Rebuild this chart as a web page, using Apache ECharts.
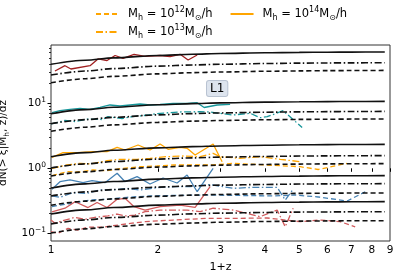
<!DOCTYPE html>
<html><head><meta charset="utf-8">
<script src="https://cdn.jsdelivr.net/npm/echarts@6/dist/echarts.min.js"></script>
<style>html,body{margin:0;padding:0;background:#fff}#c{width:399px;height:274px}</style>
</head><body><div id="c"></div>
<script>
// ---- tick values ----
const xTicks = [1, 2, 3, 4, 5, 6, 7, 8, 9];
const yMajor = [0.1, 1, 10];
const yMinor = [0.2, 0.3, 0.4, 0.5, 0.6, 0.7, 0.8, 0.9, 2, 3, 4, 5, 6, 7, 8, 9, 20, 30, 40, 50, 60, 70];
const xRange = [1, 9];
const yRange = [0.0761, 78.9];

// ---- model curves (black), sampled at modelX ----
const modelX = [1, 1.25, 1.5, 2, 2.5, 3, 4, 5, 6, 7, 8.7];
const t1Solid   = [39.8, 46.0, 50.0, 54.5, 56.9, 58.3, 59.9, 60.7, 61.1, 61.4, 61.6];
const t1DashDot = [27.2, 31.4, 34.2, 37.3, 38.9, 39.9, 40.9, 41.5, 41.8, 41.9, 42.1];
const t1Dashed  = [20.7, 23.9, 26.0, 28.4, 29.6, 30.3, 31.1, 31.5, 31.8, 31.9, 32.1];
const t2Solid   = [6.92, 8.00, 8.69, 9.48, 9.90, 10.14, 10.41, 10.55, 10.62, 10.67, 10.72];
const t2DashDot = [4.85, 5.61, 6.09, 6.64, 6.94, 7.11, 7.29, 7.39, 7.44, 7.48, 7.51];
const t2Dashed  = [3.71, 4.29, 4.66, 5.08, 5.31, 5.44, 5.58, 5.65, 5.69, 5.72, 5.75];
const t3Solid   = [1.507, 1.742, 1.893, 2.065, 2.155, 2.209, 2.267, 2.297, 2.313, 2.324, 2.334];
const t3DashDot = [1.012, 1.170, 1.271, 1.386, 1.447, 1.484, 1.522, 1.542, 1.553, 1.561, 1.568];
const t3Dashed  = [0.762, 0.881, 0.957, 1.044, 1.090, 1.117, 1.146, 1.161, 1.170, 1.175, 1.180];
const t4Solid   = [0.498, 0.576, 0.625, 0.682, 0.712, 0.730, 0.749, 0.759, 0.764, 0.768, 0.771];
const t4DashDot = [0.375, 0.434, 0.471, 0.514, 0.536, 0.550, 0.564, 0.572, 0.576, 0.578, 0.581];
const t4Dashed  = [0.270, 0.312, 0.339, 0.370, 0.386, 0.396, 0.406, 0.411, 0.414, 0.416, 0.418];
const t5Solid   = [0.198, 0.229, 0.249, 0.271, 0.283, 0.290, 0.298, 0.302, 0.304, 0.305, 0.307];
const t5DashDot = [0.139, 0.161, 0.175, 0.190, 0.199, 0.204, 0.209, 0.212, 0.213, 0.214, 0.215];
const t5Dashed  = [0.101, 0.117, 0.127, 0.138, 0.144, 0.148, 0.152, 0.154, 0.155, 0.156, 0.156];

// ---- measured (coloured) curves ----
const c1SolidX = [1.026, 1.095, 1.138, 1.288, 1.356, 1.438, 1.515, 1.595, 1.713, 1.840, 2.028, 2.164, 2.309, 2.432, 2.579];
const c1SolidY = [31.4, 37.9, 33.7, 37.9, 48.1, 45.5, 54.4, 49.2, 56.7, 52.8, 54.4, 52.1, 56.7, 46.4, 55.3];

const c2SolidX = [1.0065, 1.060, 1.131, 1.207, 1.288, 1.374, 1.466, 1.564, 1.669, 1.781, 1.900, 2.028, 2.207, 2.416, 2.579, 2.698, 2.935, 3.193];
const c2SolidY = [7.17, 7.69, 8.09, 8.38, 8.09, 8.68, 9.42, 9.09, 9.42, 9.76, 9.42, 9.59, 10.0, 9.93, 10.2, 8.62, 9.42, 9.66];
const c2DashDotX = [1.0, 1.095, 1.169, 1.271, 1.392, 1.447, 1.585, 1.691, 1.804, 2.028, 2.309, 2.629, 2.805, 3.256, 3.636, 3.879, 4.060, 4.503, 5.093];
const c2DashDotY = [4.81, 5.44, 5.25, 5.73, 5.63, 6.22, 5.84, 6.22, 6.44, 7.02, 7.35, 7.43, 7.35, 6.61, 7.02, 6.0, 6.22, 7.69, 4.24];

const c3SolidX = [1.0065, 1.081, 1.184, 1.313, 1.438, 1.535, 1.616, 1.758, 1.900, 2.028, 2.136, 2.309, 2.416, 2.545, 2.860, 3.032];
const c3SolidY = [1.476, 1.738, 1.738, 1.800, 1.800, 2.104, 1.912, 2.282, 1.912, 2.364, 1.960, 2.104, 2.030, 1.602, 2.364, 1.264];
const c3DashDotX = [1.0065, 1.109, 1.207, 1.288, 1.438, 1.564, 1.747, 1.900, 2.109, 2.354, 2.629, 2.860, 2.993, 3.408, 3.879, 4.417, 5.028];
const c3DashDotY = [1.0, 1.124, 1.194, 1.165, 1.309, 1.375, 1.375, 1.425, 1.508, 1.546, 1.508, 1.70, 1.508, 1.425, 1.508, 1.375, 1.264];
const c3DashedX = [1.0065, 1.109, 1.207, 1.313, 1.438, 1.595, 1.781, 1.989, 2.207, 2.464, 2.860, 3.256, 4.060, 5.028, 5.650, 6.820];
const c3DashedY = [0.769, 0.887, 0.877, 0.942, 0.918, 1.0, 1.058, 1.085, 1.124, 1.124, 1.124, 1.194, 1.124, 1.058, 0.958, 1.194];

const c4SolidX = [1.0065, 1.060, 1.131, 1.231, 1.305, 1.419, 1.535, 1.616, 1.747, 1.900, 2.068, 2.264, 2.416, 2.579, 2.860];
const c4SolidY = [0.475, 0.622, 0.661, 0.600, 0.644, 0.600, 0.838, 0.622, 0.743, 0.573, 0.709, 0.594, 0.789, 0.436, 1.0];
const c4DashDotX = [1.0065, 1.060, 1.153, 1.263, 1.374, 1.495, 1.637, 1.781, 1.989, 2.207, 2.464, 2.805, 3.256, 3.636, 4.331, 4.563, 4.775];
const c4DashDotY = [0.375, 0.358, 0.421, 0.412, 0.464, 0.464, 0.492, 0.464, 0.503, 0.521, 0.521, 0.563, 0.492, 0.507, 0.51, 0.325, 0.455];
const c4DashedX = [1.0065, 1.060, 1.153, 1.288, 1.438, 1.637, 1.900, 2.207, 2.750, 3.408, 4.220, 4.868, 5.650, 6.820, 7.666];
const c4DashedY = [0.257, 0.272, 0.290, 0.325, 0.333, 0.358, 0.375, 0.382, 0.388, 0.382, 0.375, 0.388, 0.362, 0.314, 0.436];

const c5SolidX = [1.0065, 1.095, 1.169, 1.271, 1.348, 1.438, 1.535, 1.616, 1.713, 1.840, 2.028, 2.309, 2.545, 2.805];
const c5SolidY = [0.213, 0.243, 0.306, 0.249, 0.298, 0.249, 0.333, 0.345, 0.257, 0.228, 0.257, 0.272, 0.251, 0.521];
const c5DashDotX = [1.0, 1.026, 1.095, 1.169, 1.247, 1.330, 1.447, 1.535, 1.616, 1.724, 1.840, 2.028, 2.416, 2.629, 2.860, 3.256, 3.879, 4.331, 4.563, 4.805];
const c5DashDotY = [0.160, 0.143, 0.160, 0.176, 0.164, 0.176, 0.185, 0.198, 0.185, 0.191, 0.215, 0.228, 0.228, 0.215, 0.243, 0.228, 0.180, 0.228, 0.126, 0.243];
const c5DashedX = [1.0, 1.046, 1.117, 1.191, 1.271, 1.392, 1.544, 1.691, 1.840, 2.207, 2.750, 3.408, 4.060, 5.028, 5.724, 6.517, 7.182];
const c5DashedY = [0.106, 0.100, 0.119, 0.112, 0.124, 0.124, 0.134, 0.143, 0.151, 0.160, 0.170, 0.170, 0.172, 0.151, 0.160, 0.151, 0.126];

// ---- styles ----
const FONT = 'DejaVu Sans';
const DASHED = [5, 3];
const DASHDOT = [7, 2.5, 1.5, 2.5];
const COL = { dark: '#a01f20', teal: '#17969a', orange: '#ffa500', blue: '#4682b4', red: '#d0595b' };
const L = v => Math.log10(v);

function lineSeries(xs, ys, color, dash, width, z, smooth) {
  return {
    type: 'line', silent: true, animation: false, symbol: 'none', z: z,
    smooth: smooth ? 0.3 : false, smoothMonotone: smooth ? 'x' : undefined,
    data: xs.map((x, i) => [L(x), L(ys[i])]),
    lineStyle: { color: color, width: width, type: dash }
  };
}

const series = [];
[
  [c1SolidX, c1SolidY, COL.dark, 'solid'],
  [c2SolidX, c2SolidY, COL.teal, 'solid'],
  [c2DashDotX, c2DashDotY, COL.teal, DASHDOT],
  [c3SolidX, c3SolidY, COL.orange, 'solid'],
  [c3DashDotX, c3DashDotY, COL.orange, DASHDOT],
  [c3DashedX, c3DashedY, COL.orange, DASHED],
  [c4SolidX, c4SolidY, COL.blue, 'solid'],
  [c4DashDotX, c4DashDotY, COL.blue, DASHDOT],
  [c4DashedX, c4DashedY, COL.blue, DASHED],
  [c5SolidX, c5SolidY, COL.red, 'solid'],
  [c5DashDotX, c5DashDotY, COL.red, DASHDOT],
  [c5DashedX, c5DashedY, COL.red, DASHED]
].forEach(d => series.push(lineSeries(d[0], d[1], d[2], d[3], 1.3, 2, false)));
[
  [t1Solid, 'solid'], [t1DashDot, DASHDOT], [t1Dashed, DASHED],
  [t2Solid, 'solid'], [t2DashDot, DASHDOT], [t2Dashed, DASHED],
  [t3Solid, 'solid'], [t3DashDot, DASHDOT], [t3Dashed, DASHED],
  [t4Solid, 'solid'], [t4DashDot, DASHDOT], [t4Dashed, DASHED],
  [t5Solid, 'solid'], [t5DashDot, DASHDOT], [t5Dashed, DASHED]
].forEach(d => series.push(lineSeries(modelX, d[0], '#111', d[1], 1.6, 3, true)));
const legendNames = { L12: '12', L13: '13', L14: '14' };
series.push({ name: 'L12', type: 'line', symbol: 'none', data: [], color: COL.orange, lineStyle: { color: COL.orange, width: 1.3, type: DASHED } });
series.push({ name: 'L13', type: 'line', symbol: 'none', data: [], color: COL.orange, lineStyle: { color: COL.orange, width: 1.3, type: DASHDOT } });
series.push({ name: 'L14', type: 'line', symbol: 'none', data: [], color: COL.orange, lineStyle: { color: COL.orange, width: 1.3, type: 'solid' } });

const legRich = {
  a: { fontFamily: FONT, fontSize: 11.5, lineHeight: 16, padding: [0, 0, 0, 4], color: '#000' },
  m: { fontFamily: FONT, fontSize: 11.5, lineHeight: 16, color: '#000' },
  p: { fontFamily: FONT, fontSize: 8, lineHeight: 9, verticalAlign: 'top', color: '#000' },
  s: { fontFamily: FONT, fontSize: 8, lineHeight: 9, verticalAlign: 'bottom', color: '#000' }
};
const legFmt = name => '{a|M}{s|h}{m| = 10}{p|' + legendNames[name] + '}{m|M}{s|⊙}{m|/h}';
const legendBase = { orient: 'horizontal', itemWidth: 23, itemHeight: 10, formatter: legFmt,
  itemStyle: { opacity: 0, color: 'transparent', borderWidth: 0 },
  textStyle: { rich: legRich }, selectedMode: false, padding: 0 };

const option = {
  animation: false,
  textStyle: { fontFamily: FONT },
  grid: { left: 51, right: 9, top: 45, bottom: 33, show: true, borderColor: '#333', borderWidth: 1,
    containLabel: false, outerBoundsMode: 'none' },
  legend: [
    Object.assign({}, legendBase, { data: ['L12', 'L14'], left: 95, top: 6, itemGap: 17 }),
    Object.assign({}, legendBase, { data: ['L13'], left: 95, top: 24 })
  ],
  xAxis: {
    type: 'value', min: L(xRange[0]), max: L(xRange[1]),
    name: '1+z', nameLocation: 'middle', nameGap: 21,
    nameTextStyle: { fontFamily: FONT, fontSize: 11, color: '#000' },
    axisLine: { show: false }, splitLine: { show: false },
    axisTick: { customValues: xTicks.map(L), length: 3.5, lineStyle: { color: '#000' } },
    axisLabel: { customValues: xTicks.map(L), formatter: v => String(Math.round(Math.pow(10, v))),
      fontFamily: FONT, fontSize: 10.5, color: '#000', margin: 4 }
  },
  yAxis: [
    {
      type: 'value', min: L(yRange[0]), max: L(yRange[1]),
      name: '{a|dN(> ξ|M}{s|h}{a|, z)/dz}', nameLocation: 'middle', nameGap: 27, nameRotate: 90,
      nameTextStyle: { rich: {
        a: { fontFamily: FONT, fontSize: 10.5, color: '#000', lineHeight: 14 },
        s: { fontFamily: FONT, fontSize: 7.5, color: '#000', verticalAlign: 'bottom', lineHeight: 9 } } },
      axisLine: { show: false }, splitLine: { show: false },
      axisTick: { customValues: yMajor.map(L), length: 3.5, lineStyle: { color: '#000' } },
      axisLabel: { customValues: yMajor.map(L), margin: 5,
        formatter: v => { const e = Math.round(v); return '{b|10}{s|' + (e < 0 ? '−' + (-e) : e) + '}'; },
        rich: {
          b: { fontFamily: FONT, fontSize: 10.5, color: '#000', lineHeight: 14 },
          s: { fontFamily: FONT, fontSize: 7.5, color: '#000', verticalAlign: 'top', lineHeight: 8 } } }
    },
    {
      type: 'value', min: L(yRange[0]), max: L(yRange[1]), position: 'left',
      axisLine: { show: false }, splitLine: { show: false }, axisLabel: { show: false },
      axisTick: { customValues: yMinor.map(L), length: 2, lineStyle: { color: '#000', width: 0.8 } }
    }
  ],
  graphic: [{
    type: 'text', left: 206, top: 80, z: 10,
    style: { text: 'L1', font: '12px "DejaVu Sans"', fill: '#000', backgroundColor: '#dde4ee',
      borderColor: '#b9c3d2', borderWidth: 1, padding: [2, 3, 1, 3], borderRadius: 2 }
  }],
  series: series
};
const chart = echarts.init(document.getElementById('c'), null, { renderer: 'canvas' });
chart.setOption(option);
</script>
</body></html>
